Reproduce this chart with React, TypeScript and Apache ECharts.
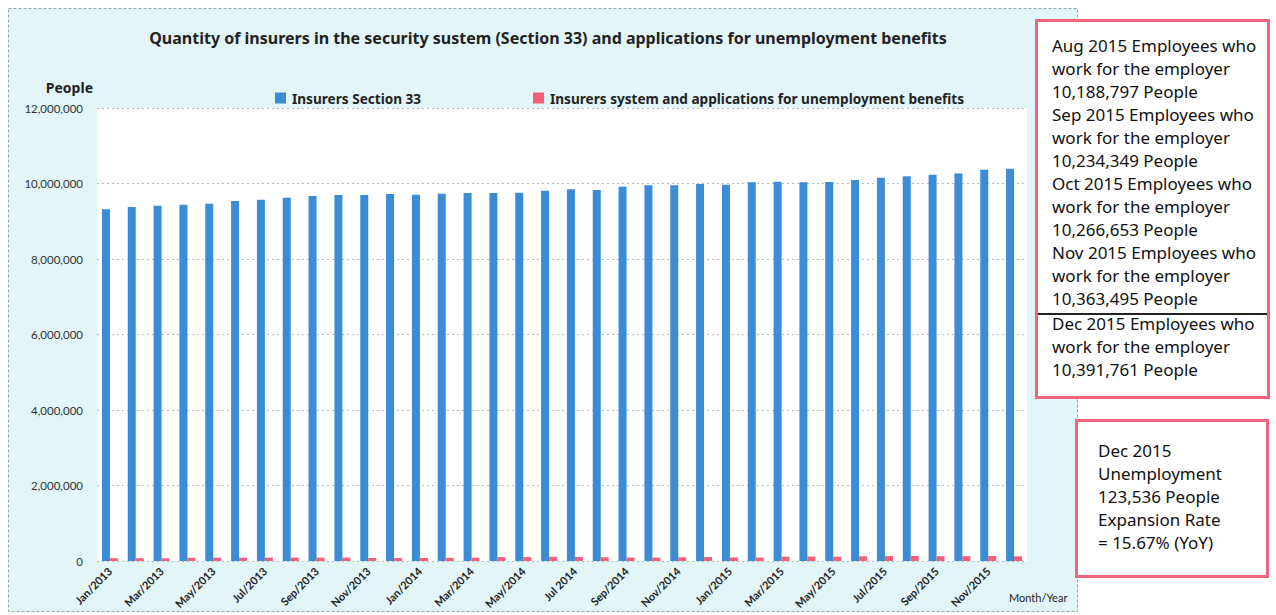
import React, { useEffect, useRef } from "react";
import * as echarts from "echarts";

const categories = [
  "Jan/2013", "Feb/2013", "Mar/2013", "Apr/2013", "May/2013", "Jun/2013",
  "Jul/2013", "Aug/2013", "Sep/2013", "Oct/2013", "Nov/2013", "Dec/2013",
  "Jan/2014", "Feb/2014", "Mar/2014", "Apr/2014", "May/2014", "Jun/2014",
  "Jul 2014", "Aug/2014", "Sep/2014", "Oct/2014", "Nov/2014", "Dec/2014",
  "Jan/2015", "Feb/2015", "Mar/2015", "Apr/2015", "May/2015", "Jun/2015",
  "Jul/2015", "Aug/2015", "Sep/2015", "Oct/2015", "Nov/2015", "Dec/2015",
];

const insurersSection33 = [
  9317000, 9377000, 9412000, 9438000, 9465000, 9536000,
  9571000, 9624000, 9669000, 9695000, 9698000, 9722000,
  9703000, 9730000, 9748000, 9750000, 9752000, 9809000,
  9846000, 9828000, 9915000, 9952000, 9955000, 9987000,
  9968000, 10032000, 10048000, 10035000, 10038000, 10093000,
  10150000, 10188797, 10234349, 10266653, 10363495, 10391761,
];

const unemploymentApplications = [
  75000, 74000, 72000, 85000, 86000, 88000,
  90000, 90000, 89000, 90000, 80000, 80000,
  82000, 83000, 86000, 104000, 105000, 110000,
  108000, 100000, 92000, 92000, 98000, 106800,
  94000, 92000, 112000, 118000, 113000, 125000,
  130000, 135000, 128000, 128000, 132000, 123536,
];

const seriesNames = [
  "Insurers Section 33",
  "Insurers system and applications for unemployment benefits",
];

const titleText =
  "Quantity of insurers in the security sustem (Section 33) and applications for unemployment benefits";

const yTicks = { min: 0, max: 12000000, interval: 2000000 };

const employeeNotes = [
  "Aug 2015 Employees who",
  "work for the employer",
  "10,188,797 People",
  "Sep 2015 Employees who",
  "work for the employer",
  "10,234,349 People",
  "Oct 2015 Employees who",
  "work for the employer",
  "10,266,653 People",
  "Nov 2015 Employees who",
  "work for the employer",
  "10,363,495 People",
];

const decemberNote = [
  "Dec 2015 Employees who",
  "work for the employer",
  "10,391,761 People",
];

const unemploymentNote = [
  "Dec 2015",
  "Unemployment",
  "123,536 People",
  "Expansion Rate",
  "= 15.67% (YoY)",
];

const BLUE = "#3b8cd5";
const RED = "#f56079";
const PINK = "#f0657d";
const FONT = "Lato";
const HEAD = "Noto Sans";

export default function App() {
  const ref = useRef<HTMLDivElement>(null);

  useEffect(() => {
    if (!ref.current) return;
    const chart = echarts.init(ref.current, undefined, { renderer: "svg" });

    const legendBase = {
      top: 86,
      itemWidth: 11,
      itemHeight: 11,
      icon: "rect",
      textStyle: {
        fontFamily: HEAD,
        fontWeight: "bold",
        fontSize: 13.6,
        color: "#222",
        padding: [0, 0, 0, 1],
      },
    };

    chart.setOption({
      animation: false,
      title: {
        text: titleText,
        left: 543,
        textAlign: "center",
        top: 25,
        textStyle: {
          fontFamily: HEAD,
          fontWeight: "bold",
          fontSize: 16,
          color: "#222",
        },
      },
      legend: [
        { ...legendBase, left: 270, data: [seriesNames[0]] },
        { ...legendBase, left: 528, data: [seriesNames[1]] },
      ],
      grid: {
        left: 97,
        right: 249,
        top: 108,
        bottom: 54,
        show: true,
        backgroundColor: "#ffffff",
        borderWidth: 0,
      },
      xAxis: {
        type: "category",
        data: categories,
        axisLine: { show: false },
        axisTick: { show: false },
        axisLabel: {
          interval: 1,
          rotate: 45,
          margin: 8,
          fontFamily: FONT,
          fontWeight: "bold",
          fontSize: 11,
          color: "#222",
        },
      },
      yAxis: {
        type: "value",
        min: yTicks.min,
        max: yTicks.max,
        interval: yTicks.interval,
        name: "People",
        nameLocation: "end",
        nameGap: 14,
        nameTextStyle: {
          fontFamily: HEAD,
          fontWeight: "bold",
          fontSize: 14,
          color: "#222",
          align: "right",
          padding: [0, 4, 0, 0],
        },
        axisLine: { show: false },
        axisTick: { show: false },
        axisLabel: {
          margin: 14,
          fontFamily: FONT,
          fontSize: 11.5,
          color: "#333",
          formatter: (v: number) => v.toLocaleString("en-US"),
        },
        splitLine: {
          show: true,
          lineStyle: { color: "#b8bcbc", type: [2, 3], width: 1 },
        },
      },
      series: [
        {
          name: seriesNames[0],
          type: "bar",
          data: insurersSection33,
          barWidth: 8,
          barGap: "0%",
          itemStyle: { color: BLUE },
        },
        {
          name: seriesNames[1],
          type: "bar",
          data: unemploymentApplications,
          barWidth: 8,
          barGap: "0%",
          itemStyle: { color: RED },
        },
      ],
      graphic: [
        {
          type: "rect",
          z: -10,
          silent: true,
          shape: { x: 8.5, y: 8.5, width: 1069, height: 603 },
          style: {
            fill: "#e2f6f8",
            stroke: "#9aa3a6",
            lineWidth: 1,
            lineDash: [3, 2],
          },
        },
        {
          type: "text",
          silent: true,
          style: {
            text: "Month/Year",
            x: 1009,
            y: 597,
            verticalAlign: "middle",
            font: `11px ${FONT}`,
            fill: "#222",
          },
        },
        {
          type: "rect",
          silent: true,
          shape: { x: 1036.5, y: 20.5, width: 232, height: 377 },
          style: { fill: "#ffffff", stroke: PINK, lineWidth: 3 },
        },
        {
          type: "line",
          silent: true,
          shape: { x1: 1038, y1: 314, x2: 1267, y2: 314 },
          style: { stroke: "#222", lineWidth: 2 },
        },
        {
          type: "text",
          silent: true,
          style: {
            text: employeeNotes.join("\n"),
            x: 1052,
            y: 33.5,
            verticalAlign: "top",
            lineHeight: 23,
            font: '17px "Noto Sans"',
            fill: "#111",
          },
        },
        {
          type: "text",
          silent: true,
          style: {
            text: decemberNote.join("\n"),
            x: 1052,
            y: 311.5,
            verticalAlign: "top",
            lineHeight: 23,
            font: '17px "Noto Sans"',
            fill: "#111",
          },
        },
        {
          type: "rect",
          silent: true,
          shape: { x: 1076.5, y: 420.5, width: 191, height: 156 },
          style: { fill: "#ffffff", stroke: PINK, lineWidth: 3 },
        },
        {
          type: "text",
          silent: true,
          style: {
            text: unemploymentNote.join("\n"),
            x: 1098,
            y: 438.5,
            verticalAlign: "top",
            lineHeight: 23,
            font: '17px "Noto Sans"',
            fill: "#111",
          },
        },
      ],
    });

    return () => chart.dispose();
  }, []);

  return (
    <div
      ref={ref}
      style={{
        position: "absolute",
        left: 0,
        top: 0,
        width: 1276,
        height: 615,
        background: "#ffffff",
      }}
    />
  );
}
